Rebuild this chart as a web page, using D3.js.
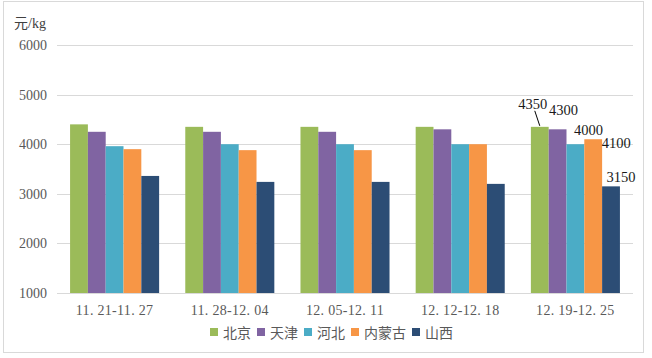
<!DOCTYPE html>
<html>
<head>
<meta charset="utf-8">
<script src="https://cdn.jsdelivr.net/npm/d3@7"></script>
<style>
  body { margin: 0; background: #fff; }
  svg text { font-family: "Liberation Serif", "Noto Sans CJK SC", serif; }
</style>
</head>
<body>
<div class="barChart"></div>
<script>
// data
var weeks = ["11.21-11.27", "11.28-12.04", "12.05-12.11", "12.12-12.18", "12.19-12.25"];
var regions = ["北京", "天津", "河北", "内蒙古", "山西"];
var beijing = [4400, 4350, 4350, 4350, 4350];
var tianjin = [4250, 4250, 4250, 4300, 4300];
var hebei = [3960, 4000, 4000, 4000, 4000];
var neimenggu = [3900, 3880, 3880, 4000, 4100];
var shanxi = [3360, 3240, 3240, 3200, 3150];
var yTicks = [1000, 2000, 3000, 4000, 5000, 6000];
var unitLabel = "元/kg";

var seriesValues = [beijing, tianjin, hebei, neimenggu, shanxi];
var colors = ["#9BBB59", "#8064A2", "#4BACC6", "#F79646", "#2C4D75"];

// labels only on the last week, nudged by hand like in the original
var labelOffsets = [[-7, -18], [6, -14], [13, -9], [23, 9], [10, -4]];

var width = 652,
    height = 358;

var svg = d3.select(".barChart").append("svg")
    .attr("width", width)
    .attr("height", height);

// chart frame
svg.append("rect")
    .attr("x", 3.5).attr("y", 1.5)
    .attr("width", 640).attr("height", 351)
    .attr("fill", "#fff")
    .attr("stroke", "#d9d9d9");

var x0 = d3.scaleBand()
    .domain(weeks)
    .range([57, 633])
    .paddingInner(0.227)
    .paddingOuter(0.1135);

var x1 = d3.scaleBand()
    .domain(regions)
    .range([0, x0.bandwidth()]);

var y = d3.scaleLinear()
    .domain([1000, 6000])
    .range([293, 45]);

// grid lines
svg.append("g").selectAll("line")
    .data(yTicks)
    .enter().append("line")
    .attr("x1", 57).attr("x2", 633)
    .attr("y1", function(d) { return Math.round(y(d)) + 0.5; })
    .attr("y2", function(d) { return Math.round(y(d)) + 0.5; })
    .attr("stroke", "#d9d9d9")
    .attr("stroke-width", 1);

// y tick labels
svg.append("g").selectAll("text")
    .data(yTicks)
    .enter().append("text")
    .attr("x", 47)
    .attr("y", function(d) { return y(d) + 5; })
    .attr("text-anchor", "end")
    .style("fill", "#595959")
    .style("font-size", "14px")
    .text(function(d) { return d; });

svg.append("text")
    .attr("x", 14)
    .attr("y", 28)
    .style("fill", "#404040")
    .style("font-size", "14px")
    .text(unitLabel);

// bars
var rows = weeks.map(function(w, i) {
    return { week: w, values: regions.map(function(r, j) { return { region: r, idx: j, value: seriesValues[j][i] }; }) };
});

var groups = svg.append("g").selectAll("g")
    .data(rows)
    .enter().append("g")
    .attr("transform", function(d) { return "translate(" + x0(d.week) + ",0)"; });

groups.selectAll("rect")
    .data(function(d) { return d.values; })
    .enter().append("rect")
    .attr("x", function(d) { return x1(d.region); })
    .attr("width", x1.bandwidth())
    .attr("y", function(d) { return y(d.value); })
    .attr("height", function(d) { return y(1000) - y(d.value); })
    .attr("fill", function(d) { return colors[d.idx]; });

// data labels on the last group
var last = rows[rows.length - 1];
var lastX = x0(last.week);
svg.append("g").selectAll("text")
    .data(last.values)
    .enter().append("text")
    .attr("x", function(d) { return lastX + x1(d.region) + x1.bandwidth() / 2 + labelOffsets[d.idx][0]; })
    .attr("y", function(d) { return y(d.value) + labelOffsets[d.idx][1]; })
    .attr("text-anchor", "middle")
    .style("fill", "#1a1a1a")
    .style("font-size", "14.5px")
    .text(function(d) { return d.value; });

// leader line for the first label
var b = last.values[0];
var bx = lastX + x1(b.region) + x1.bandwidth() / 2;
svg.append("line")
    .attr("x1", bx - 5).attr("y1", y(b.value) - 16)
    .attr("x2", bx).attr("y2", y(b.value) - 1)
    .attr("stroke", "#000")
    .attr("stroke-width", 1);

// category labels
svg.append("g").selectAll("text")
    .data(weeks)
    .enter().append("text")
    .attr("x", function(d) { return x0(d) + x0.bandwidth() / 2; })
    .attr("y", 315)
    .attr("text-anchor", "middle")
    .style("fill", "#595959")
    .style("font-size", "14px")
    .style("letter-spacing", "0.3px")
    .text(function(d) { return d.replace(/\./g, ". "); });

// legend
var legend = svg.append("g");
var lx = 210;
regions.forEach(function(r, i) {
    legend.append("rect")
        .attr("x", lx).attr("y", 328)
        .attr("width", 8).attr("height", 8)
        .attr("fill", colors[i]);
    var t = legend.append("text")
        .attr("x", lx + 13)
        .attr("y", 338)
        .style("fill", "#595959")
        .style("font-family", "'Noto Sans CJK SC', sans-serif")
        .style("font-size", "14px")
        .text(r);
    lx += 13 + t.node().getComputedTextLength() + 6;
});
</script>
</body>
</html>
